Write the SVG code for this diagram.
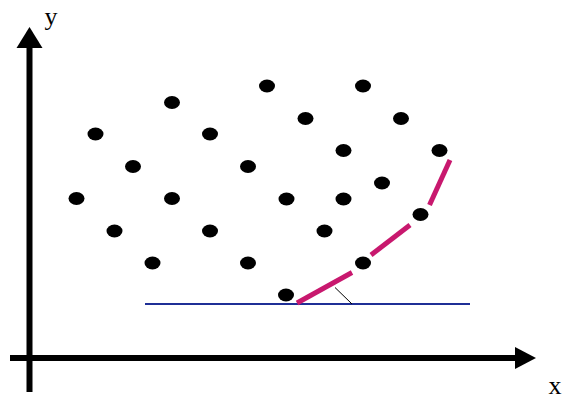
<svg xmlns="http://www.w3.org/2000/svg" width="564" height="400" viewBox="0 0 564 400">
<style>
.dot{fill:#000}
.axis{stroke:#000;stroke-width:6;fill:none}
.lbl{font-family:"Liberation Serif","Times New Roman",serif;font-size:26px;fill:#000}
.curve{stroke:#c8186e;stroke-width:5;fill:none}
</style>
<defs>
<ellipse id="d" rx="8" ry="6.5" class="dot"/>
</defs>
<rect width="564" height="400" fill="#fff"/>
<g id="axes">
<line class="axis" x1="29.5" y1="392" x2="29.5" y2="44"/>
<polygon points="29.5,27 16.5,48 42.5,48" fill="#000"/>
<line class="axis" x1="10" y1="358" x2="518" y2="358"/>
<polygon points="536,358 515,347 515,369" fill="#000"/>
<text class="lbl" x="51" y="25" text-anchor="middle">y</text>
<text class="lbl" x="555" y="394" text-anchor="middle">x</text>
</g>
<g id="points">
<use href="#d" x="267" y="86"/><use href="#d" x="363" y="86"/>
<use href="#d" x="172" y="102.5"/>
<use href="#d" x="305.5" y="118.5"/><use href="#d" x="401" y="118.5"/>
<use href="#d" x="95.5" y="134"/><use href="#d" x="210" y="134"/>
<use href="#d" x="343.5" y="150.5"/><use href="#d" x="439.5" y="150.5"/>
<use href="#d" x="133" y="166.5"/><use href="#d" x="248" y="166.5"/>
<use href="#d" x="382" y="183"/>
<use href="#d" x="76.5" y="198.5"/><use href="#d" x="172" y="198.5"/><use href="#d" x="286.5" y="199"/><use href="#d" x="343.5" y="199"/>
<use href="#d" x="420.5" y="214.5"/>
<use href="#d" x="114.5" y="231"/><use href="#d" x="210" y="231"/><use href="#d" x="324.5" y="231"/>
<use href="#d" x="152.5" y="263"/><use href="#d" x="248" y="263"/><use href="#d" x="363" y="263"/>
<use href="#d" x="286" y="295"/>
</g>
<g id="connectors">
<line x1="145" y1="304" x2="470" y2="304" stroke="#1f2f96" stroke-width="2"/>
<line x1="335" y1="287.5" x2="352" y2="304" stroke="#000" stroke-width="1"/>
<line class="curve" x1="297" y1="303" x2="352" y2="272.5"/>
<line class="curve" x1="371" y1="255" x2="410" y2="225"/>
<line class="curve" x1="429.5" y1="205" x2="450" y2="160"/>
</g>
</svg>
